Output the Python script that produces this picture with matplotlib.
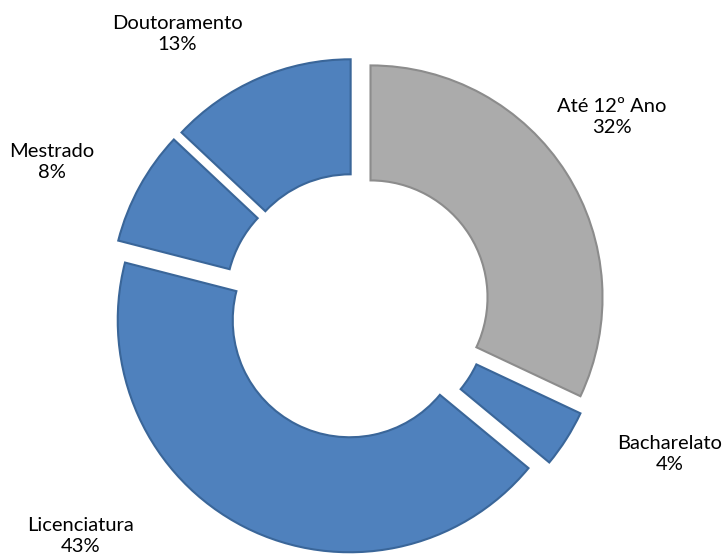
import matplotlib.pyplot as plt

# education level shares (%), clockwise from 12 o'clock
categories = ['Até 12º Ano', 'Bacharelato', 'Licenciatura', 'Mestrado', 'Doutoramento']
shares = [32, 4, 43, 8, 13]
colors = ['#ABABAB', '#4F81BD', '#4F81BD', '#4F81BD', '#4F81BD']
edge_colors = ['#8C8C8C', '#3A6699', '#3A6699', '#3A6699', '#3A6699']

# label anchor positions in pixel coords (x, y from top)
label_pos = [(612, 117), (670, 454), (81, 536), (52, 162), (177, 34)]

plt.rcParams['font.family'] = ['Lato', 'DejaVu Sans']

fig = plt.figure(figsize=(7.25, 5.55), dpi=100)
ax = fig.add_axes([0, 0, 1, 1])

# geometry in pixels (y measured downward, plotted as negative)
cx, cy = 357, 306
R = 232
ri = 117
gap = 16

wedges, _ = ax.pie(shares, radius=R, center=(cx, -cy), startangle=90,
                   counterclock=False, colors=colors, explode=[gap] * len(shares),
                   wedgeprops=dict(width=R - ri, linewidth=1.5), frame=True)
for w, ec in zip(wedges, edge_colors):
    w.set_edgecolor(ec)

ax.set_xlim(0, 725)
ax.set_ylim(-555, 0)
ax.set_aspect('equal')
ax.axis('off')

for name, v, (x, y) in zip(categories, shares, label_pos):
    ax.text(x, -y, f'{name}\n{v}%', ha='center', va='center',
            fontsize=14.5, color='#000000', linespacing=1.25)

fig.savefig('out.png', dpi=100)
